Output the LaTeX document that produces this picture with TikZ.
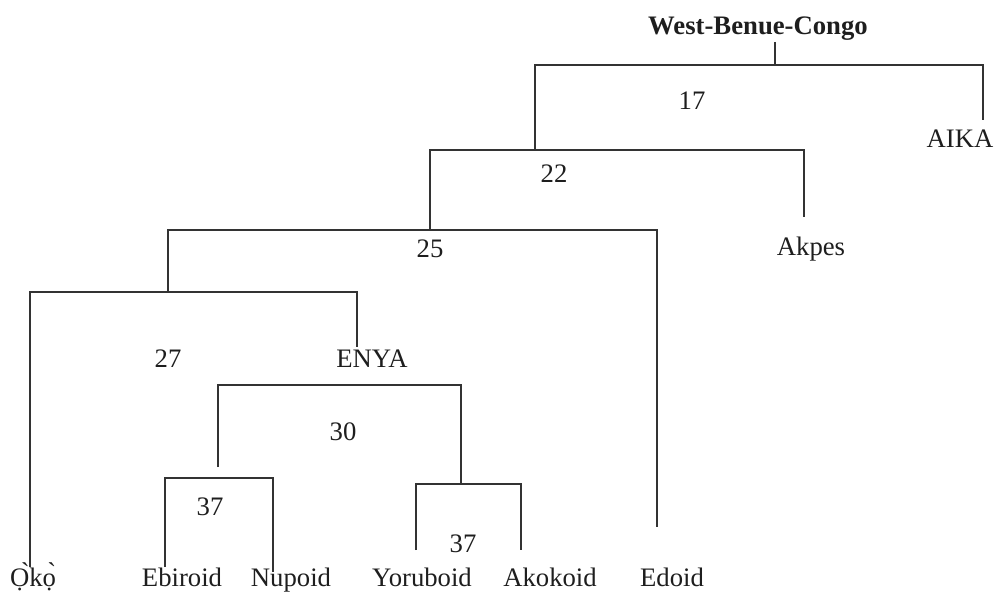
\documentclass[tikz,border=0pt]{standalone}
\usepackage{fontspec}
\setmainfont{Liberation Serif}
\usetikzlibrary{positioning,calc}
\definecolor{ink}{HTML}{1E1E1E}
\definecolor{twig}{HTML}{333333}

\begin{document}
\begin{tikzpicture}[
  x=1pt,
  y=-1pt,
  font=\fontsize{26.7}{30}\selectfont,
  line join=miter,
  every node/.style={
    inner sep=0pt,
    text=ink,
  },
  branch/.style={
    draw=twig,
    line width=2pt,
  },
  leaf/.style={
    anchor=base,
  },
  score/.style={
    anchor=base,
  },
]
\useasboundingbox (0,0) rectangle (997,594);

% --- labels ---
\node[leaf, font=\fontsize{26.7}{30}\selectfont\bfseries] (root) at (758,35) {West-Benue-Congo};
\node[leaf] (aika)     at (960,147) {AIKA};
\node[leaf] (akpes)    at (811,255) {Akpes};
\node[leaf] (enya)     at (372,367) {ENYA};
\node[leaf] (oko)      at (33,586)  {\`{Ọ}k\`{ọ}};
\node[leaf] (ebiroid)  at (182,586) {Ebiroid};
\node[leaf] (nupoid)   at (291,586) {Nupoid};
\node[leaf] (yoruboid) at (422,586) {Yoruboid};
\node[leaf] (akokoid)  at (550,586) {Akokoid};
\node[leaf] (edoid)    at (672,586) {Edoid};

\node[score] (s17)  at (692,110) {17};
\node[score] (s22)  at (554,182) {22};
\node[score] (s25)  at (430,257) {25};
\node[score] (s27)  at (168,367) {27};
\node[score] (s30)  at (343,440) {30};
\node[score] (s37a) at (210,515) {37};
\node[score] (s37b) at (463,552) {37};

% --- branch ends ---
\coordinate (stem)         at (775,42);
\coordinate (tip-aika)     at (983,120);
\coordinate (tip-akpes)    at (804,217);
\coordinate (tip-edoid)    at (657,527);
\coordinate (tip-oko)      at (30,567);
\coordinate (tip-enya)     at (357,347);
\coordinate (tip-ebiroid)  at (165,567);
\coordinate (tip-nupoid)   at (273,572);
\coordinate (tip-yoruboid) at (416,550);
\coordinate (tip-akokoid)  at (521,550);
\coordinate (stub30)       at (218,467);

% --- joints ---
\coordinate (k17)  at (775,65);
\coordinate (k22)  at (535,150);
\coordinate (k25)  at (430,230);
\coordinate (k27)  at (168,292);
\coordinate (k30)  at (340,385);
\coordinate (k37a) at (218,478);
\coordinate (k37b) at (461,484);

% --- brackets ---
\draw[branch] (stem) -- (k17);
\draw[branch] (k22) |- (k17) -| (tip-aika);
\draw[branch] (k25) |- (k22) -| (tip-akpes);
\draw[branch] (k27) |- (k25) -| (tip-edoid);
\draw[branch] (tip-oko) |- (k27) -| (tip-enya);
\draw[branch] (stub30) |- (k30) -| (k37b);
\draw[branch] (tip-ebiroid) |- (k37a) -| (tip-nupoid);
\draw[branch] (tip-yoruboid) |- (k37b) -| (tip-akokoid);

\end{tikzpicture}
\end{document}
